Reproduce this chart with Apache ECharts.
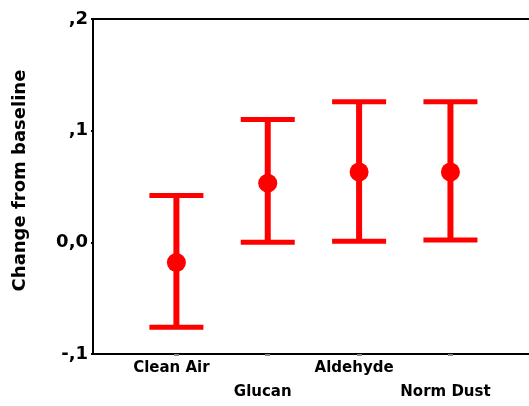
<!DOCTYPE html>
<html>
<head>
<meta charset="utf-8">
<script src="https://cdn.jsdelivr.net/npm/echarts@6/dist/echarts.min.js"></script>
<style>
  html, body { margin: 0; padding: 0; background: #fff; }
  #chart { width: 529px; height: 406px; }
</style>
</head>
<body>
<div id="chart"></div>
<script>
// groups and their x positions
const categories = ['Clean Air', 'Glucan', 'Aldehyde', 'Norm Dust'];
const xPos = [1, 2, 3, 4];
// mean change and 95% CI ends
const means = [-0.018, 0.053, 0.063, 0.063];
const lower = [-0.076, 0.000, 0.001, 0.002];
const upper = [0.042, 0.110, 0.126, 0.126];
const yTickLabels = ['-,1', '0,0', ',1', ',2'];

const RED = '#ff0000';
const FONT = '"DejaVu Sans", sans-serif';

const chart = echarts.init(document.getElementById('chart'));

const barData = xPos.map((x, i) => [x, lower[i], upper[i]]);
const meanData = xPos.map((x, i) => [x, means[i]]);

const renderErrorBar = (params, api) => {
  const x = api.value(0);
  const lo = api.coord([x, api.value(1)]);
  const hi = api.coord([x, api.value(2)]);
  const half = 27;
  return {
    type: 'group',
    children: [
      { type: 'line', shape: { x1: hi[0], y1: hi[1], x2: lo[0], y2: lo[1] }, style: { stroke: RED, lineWidth: 6 } },
      { type: 'line', shape: { x1: hi[0] - half, y1: hi[1], x2: hi[0] + half, y2: hi[1] }, style: { stroke: RED, lineWidth: 5 } },
      { type: 'line', shape: { x1: lo[0] - half, y1: lo[1], x2: lo[0] + half, y2: lo[1] }, style: { stroke: RED, lineWidth: 5 } },
    ],
  };
};

const option = {
  animation: false,
  backgroundColor: '#fff',
  grid: { left: 93, right: -6, top: 19, bottom: 52 },
  xAxis: [
    {
      type: 'value',
      min: 0.087,
      max: 4.86,
      splitLine: { show: false },
      axisLine: { onZero: false, lineStyle: { color: '#000', width: 2 } },
      axisTick: { customValues: xPos, length: 2, lineStyle: { color: '#888', width: 5 } },
      axisLabel: {
        customValues: xPos,
        hideOverlap: false,
        showMinLabel: true,
        showMaxLabel: true,
        margin: 1,
        fontFamily: FONT,
        fontWeight: 'bold',
        fontSize: 15,
        color: '#000',
        formatter: v => {
          const i = xPos.indexOf(v);
          if (i < 0) return '';
          return i % 2 === 1 ? '{low|' + categories[i] + '}' : '{high|' + categories[i] + '}';
        },
        rich: {
          high: { fontFamily: FONT, fontWeight: 'bold', fontSize: 15, color: '#000', padding: [6, 10, 0, 0] },
          low: { fontFamily: FONT, fontWeight: 'bold', fontSize: 15, color: '#000', padding: [30, 10, 0, 0] },
        },
      },
    },
    {
      type: 'value',
      position: 'top',
      min: 0.087,
      max: 4.86,
      splitLine: { show: false },
      axisLine: { onZero: false, lineStyle: { color: '#000', width: 2 } },
      axisTick: { show: false },
      axisLabel: { show: false },
    },
  ],
  yAxis: {
    type: 'value',
    min: -0.1,
    max: 0.2,
    interval: 0.1,
    name: 'Change from baseline',
    nameLocation: 'middle',
    nameGap: 64,
    nameTextStyle: { fontFamily: FONT, fontWeight: 'bold', fontSize: 18, color: '#000', padding: [0, 0, 0, 12] },
    splitLine: { show: false },
    axisLine: { lineStyle: { color: '#000', width: 2 } },
    axisTick: { length: 2, lineStyle: { color: '#000', width: 2 } },
    axisLabel: {
      margin: 5,
      fontFamily: FONT,
      fontWeight: 'bold',
      fontSize: 18,
      color: '#000',
      formatter: v => yTickLabels[Math.round((v + 0.1) / 0.1)],
    },
  },
  series: [
    {
      type: 'custom',
      renderItem: renderErrorBar,
      data: barData,
      encode: { x: 0, y: [1, 2] },
      z: 2,
    },
    {
      type: 'scatter',
      data: meanData,
      symbol: 'circle',
      symbolSize: 19,
      itemStyle: { color: RED, opacity: 1 },
      z: 3,
    },
  ],
};

chart.setOption(option);
window.addEventListener('resize', chart.resize);
</script>
</body>
</html>
